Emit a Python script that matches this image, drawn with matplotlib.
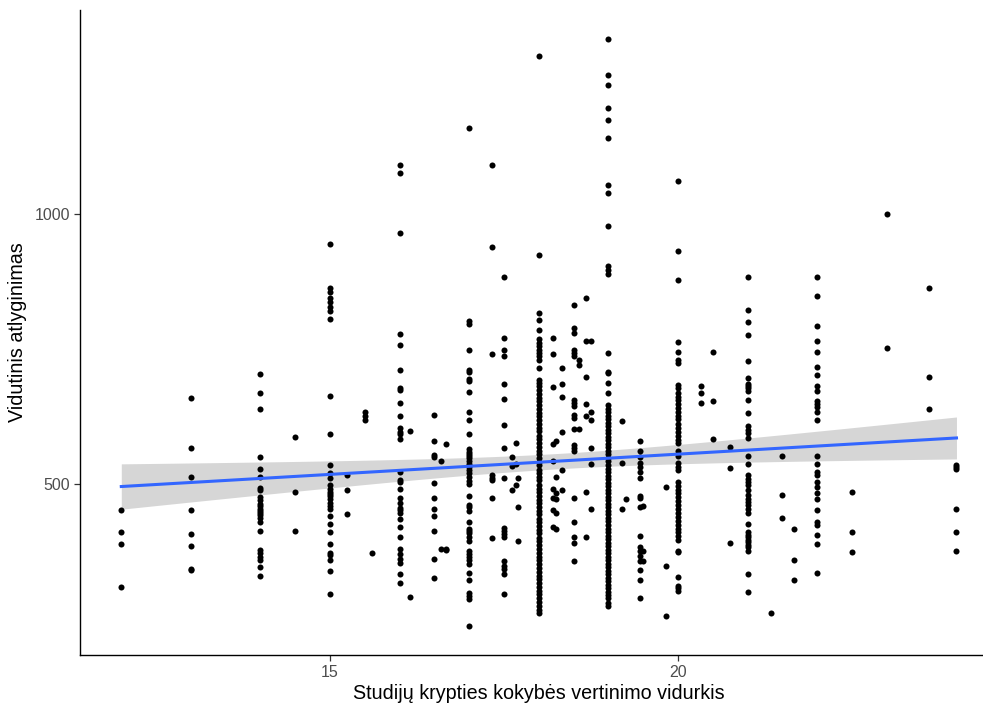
import numpy as np
import matplotlib
matplotlib.use("Agg")
import matplotlib.pyplot as plt

plt.rcParams["font.family"] = ["Liberation Sans", "DejaVu Sans"]

# Data: one list of salaries per quality score
y_12 = [452, 412, 390, 309]
y_13 = [659, 566, 513, 452, 407, 385, 344, 342]
y_14 = [704, 669, 639, 551, 528, 513, 493, 489, 476, 470, 464, 460, 455, 451,
        447, 443, 437, 430, 414, 379, 372, 366, 359, 346, 331]
y_14_5 = [588, 485, 414]
y_15 = [944, 862, 856, 845, 837, 828, 820, 805, 664, 592, 535, 521, 512, 498,
        492, 485, 482, 478, 472, 465, 460, 455, 442, 427, 411, 390, 373, 369,
        359, 339, 296]
y_15_25 = [517, 490, 445]
y_15_5 = [633, 626, 619]
y_15_6 = [372]
y_16 = [1091, 1076, 964, 778, 757, 712, 678, 674, 651, 626, 603, 597, 593, 584,
        523, 507, 504, 492, 475, 465, 456, 452, 447, 436, 421, 403, 380, 371,
        362, 354, 333, 318]
y_16_15 = [599, 292]
y_16_5 = [628, 579, 554, 551, 502, 475, 455, 442, 414, 362, 327]
y_16_6 = [543, 380]
y_16_67 = [574, 380, 379]
y_17 = [1158, 801, 797, 748, 712, 707, 695, 690, 670, 633, 619, 593, 565, 560,
        556, 552, 548, 543, 537, 531, 526, 520, 514, 506, 501, 478, 461, 457,
        450, 430, 418, 413, 409, 402, 395, 376, 371, 366, 360, 352, 335, 322,
        299, 293, 288, 238]
y_17_33 = [1091, 939, 740, 517, 511, 507, 475, 400]
y_17_5 = [883, 771, 748, 738, 685, 657, 610, 566, 511, 419, 414, 408, 402, 357,
          349, 343, 333, 297]
y_17_62 = [550, 534, 490]
y_17_67 = [576, 537, 498]
y_17_7 = [511, 458, 395]
y_18 = [1292, 924, 817, 804, 786, 768, 762, 755, 749, 743, 737, 730, 715, 693,
        687, 681, 674, 666, 660, 653, 647, 639, 631, 626, 619, 611, 604, 598,
        590, 584, 577, 569, 562, 556, 548, 541, 535, 527, 520, 514, 507, 499,
        492, 486, 478, 471, 465, 457, 450, 444, 436, 430, 422, 415, 409, 401,
        394, 388, 380, 373, 366, 359, 352, 345, 338, 331, 324, 317, 310, 303,
        296, 289, 282, 275, 268, 261]
y_18_2 = [771, 740, 679, 574, 543, 492, 475, 452, 421]
y_18_25 = [579, 514, 483, 472, 446, 418]
y_18_33 = [715, 685, 662, 597, 527, 490]
y_18_5 = [831, 789, 780, 749, 742, 737, 656, 650, 644, 628, 622, 602, 573, 566,
          562, 475, 430, 402, 391, 357]
y_18_57 = [730, 721, 602]
y_18_67 = [845, 765, 699, 649, 626, 485, 402]
y_18_75 = [765, 634, 618, 566, 538, 455]
y_19 = [1323, 1257, 1239, 1196, 1173, 1141, 1054, 1038, 977, 903, 896, 889,
        742, 708, 705, 688, 669, 646, 639, 633, 626, 620, 613, 607, 600, 594,
        587, 581, 574, 568, 561, 555, 548, 542, 535, 529, 522, 516, 509, 503,
        496, 490, 483, 477, 470, 464, 457, 451, 444, 438, 431, 425, 418, 412,
        405, 399, 392, 386, 379, 373, 366, 360, 353, 347, 340, 334, 327, 321,
        314, 308, 301, 295, 289, 281, 275]
y_19_2 = [616, 540, 455]
y_19_25 = [472]
y_19_45 = [579, 562, 551, 540, 532, 523, 511, 478, 475, 458, 405, 383, 377,
           368, 357, 341, 322, 289]
y_19_5 = [460, 377, 357]
y_19_83 = [495, 349, 256]
y_20 = [1060, 931, 877, 763, 745, 729, 724, 684, 677, 669, 662, 655, 648, 641,
        634, 627, 620, 612, 604, 597, 590, 582, 576, 562, 552, 540, 532, 526,
        504, 497, 490, 483, 476, 468, 461, 454, 447, 440, 432, 425, 418, 411,
        404, 396, 377, 374, 329, 312, 308, 303]
y_20_33 = [682, 669, 651]
y_20_5 = [745, 654, 584]
y_20_75 = [568, 530, 392]
y_21 = [883, 823, 800, 775, 727, 696, 686, 681, 677, 672, 656, 631, 607, 600,
        594, 586, 553, 538, 517, 510, 504, 498, 489, 480, 472, 467, 461, 455,
        447, 427, 411, 406, 402, 397, 393, 388, 384, 377, 334, 301]
y_21_33 = [261]
y_21_5 = [553, 480, 437]
y_21_67 = [417, 359, 323]
y_22 = [883, 848, 792, 765, 745, 717, 702, 682, 673, 654, 649, 643, 634, 619,
        553, 538, 523, 517, 504, 495, 483, 472, 452, 430, 424, 406, 390, 336]
y_22_5 = [485, 412, 374]
y_23 = [1000, 752]
y_23_6 = [863, 699, 639]
y_24 = [535, 532, 529, 455, 412, 377]

columns = [
    (12, y_12), (13, y_13), (14, y_14), (14.5, y_14_5), (15, y_15),
    (15.25, y_15_25), (15.5, y_15_5), (15.6, y_15_6), (16, y_16),
    (16.15, y_16_15), (16.5, y_16_5), (16.6, y_16_6), (16.67, y_16_67),
    (17, y_17), (17.33, y_17_33), (17.5, y_17_5), (17.62, y_17_62),
    (17.67, y_17_67), (17.7, y_17_7), (18, y_18), (18.2, y_18_2),
    (18.25, y_18_25), (18.33, y_18_33), (18.5, y_18_5), (18.57, y_18_57),
    (18.67, y_18_67), (18.75, y_18_75), (19, y_19), (19.2, y_19_2),
    (19.25, y_19_25), (19.45, y_19_45), (19.5, y_19_5), (19.83, y_19_83),
    (20, y_20), (20.33, y_20_33), (20.5, y_20_5), (20.75, y_20_75),
    (21, y_21), (21.33, y_21_33), (21.5, y_21_5), (21.67, y_21_67),
    (22, y_22), (22.5, y_22_5), (23, y_23), (23.6, y_23_6), (24, y_24),
]

x = np.concatenate([[cx] * len(cy) for cx, cy in columns]).astype(float)
y = np.concatenate([cy for _, cy in columns]).astype(float)

# lm smoother with 95% band (like geom_smooth(method = "lm"))
n = len(x)
b1, b0 = np.polyfit(x, y, 1)
resid = y - (b0 + b1 * x)
s = np.sqrt(np.sum(resid ** 2) / (n - 2))
xm = x.mean()
sxx = np.sum((x - xm) ** 2)
xg = np.linspace(x.min(), x.max(), 80)
yg = b0 + b1 * xg
se = s * np.sqrt(1 / n + (xg - xm) ** 2 / sxx)
tq = 1.964

fig = plt.figure(figsize=(9.83, 7.06), dpi=100)
# panel runs slightly past the right edge, as in the reference screenshot
ax = fig.add_axes([0.0809, 0.072, 0.9346, 0.914])

ax.fill_between(xg, yg - tq * se, yg + tq * se, color="#999999", alpha=0.4,
                linewidth=0, zorder=2)
ax.scatter(x, y, s=19, color="black", linewidths=0, zorder=3)
ax.plot(xg, yg, color="#3366FF", linewidth=2.2, zorder=4)

# ggplot-style 5% expansion
xr = x.max() - x.min()
yr = y.max() - y.min()
ax.set_xlim(x.min() - 0.05 * xr, x.max() + 0.05 * xr)
ax.set_ylim(y.min() - 0.05 * yr, y.max() + 0.05 * yr)

ax.set_xticks([15, 20])
ax.set_yticks([500, 1000])
ax.tick_params(axis="both", colors="#333333", labelcolor="#4D4D4D",
               labelsize=11.5, length=4, width=0.9, pad=3)
for side in ("top", "right"):
    ax.spines[side].set_visible(False)
for side in ("left", "bottom"):
    ax.spines[side].set_color("black")
    ax.spines[side].set_linewidth(1.0)

ax.set_xlabel("Studijų krypties kokybės vertinimo vidurkis", fontsize=14.2,
              labelpad=3)
ax.set_ylabel("Vidutinis atlyginimas", fontsize=14.2)
ax.yaxis.set_label_coords(-0.0571, 0.5)

fig.savefig("out.png", dpi=100)
